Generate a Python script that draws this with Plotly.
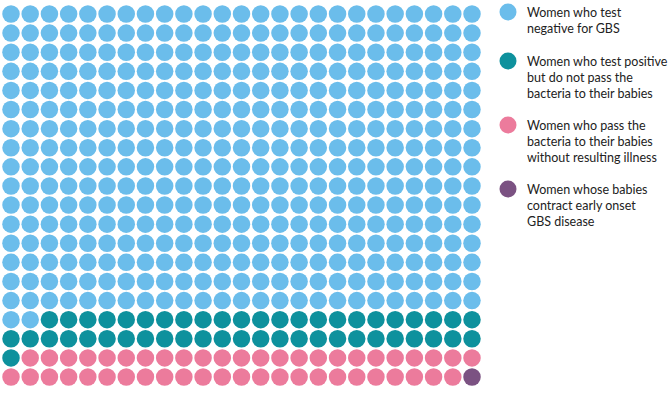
import plotly.graph_objects as go

categories = [
    "Women who test<br>negative for GBS",
    "Women who test positive<br>but do not pass the<br>bacteria to their babies",
    "Women who pass the<br>bacteria to their babies<br>without resulting illness",
    "Women whose babies<br>contract early onset<br>GBS disease",
]
counts = [402, 49, 48, 1]
colors = ["#6BBDEB", "#0E919D", "#EC7B9C", "#7B5282"]
n_cols = 25
n_rows = 20

W, H = 670, 393
fig = go.Figure()

# waffle grid, filled in reading order
idx = 0
for cat, cnt, col in zip(categories, counts, colors):
    xs, ys = [], []
    for k in range(cnt):
        xs.append((idx + k) % n_cols)
        ys.append((idx + k) // n_cols)
    idx += cnt
    fig.add_trace(go.Scatter(x=xs, y=ys, mode="markers",
                             marker=dict(size=17.5, color=col, line=dict(width=0)),
                             showlegend=False, hoverinfo="skip",
                             xaxis="x", yaxis="y"))

# legend (pixel coordinate axis)
leg_y = [12, 61, 125, 189]
leg_x_circle = 508
leg_x_text = 525
line_h = 16.2
fig.add_trace(go.Scatter(x=[leg_x_circle] * 4, y=leg_y, mode="markers",
                         marker=dict(size=17, color=colors, line=dict(width=0)),
                         showlegend=False, hoverinfo="skip",
                         xaxis="x2", yaxis="y2"))
for cat, yy in zip(categories, leg_y):
    for i, line in enumerate(cat.split("<br>")):
        fig.add_annotation(x=leg_x_text, y=yy + i * line_h, xref="x2", yref="y2",
                           text=line, showarrow=False, xanchor="left", yanchor="middle",
                           align="left", font=dict(family="Lato", size=12.5, color="#222222"))

x0, x1 = 11 - 9.6, 472 + 9.6
ytop, ybot = 14 - 9.55, 377 + 9.55
fig.update_layout(
    width=W, height=H, margin=dict(l=0, r=0, t=0, b=0),
    paper_bgcolor="white", plot_bgcolor="rgba(0,0,0,0)",
    xaxis=dict(domain=[x0 / W, x1 / W], range=[-0.5, n_cols - 0.5], visible=False, fixedrange=True),
    yaxis=dict(domain=[(H - ybot) / H, (H - ytop) / H], range=[n_rows - 0.5, -0.5], visible=False, fixedrange=True),
    xaxis2=dict(domain=[0, 1], range=[0, W], visible=False, fixedrange=True, anchor="y2"),
    yaxis2=dict(domain=[0, 1], range=[H, 0], visible=False, fixedrange=True, anchor="x2"),
)
fig.write_html("out.html")
